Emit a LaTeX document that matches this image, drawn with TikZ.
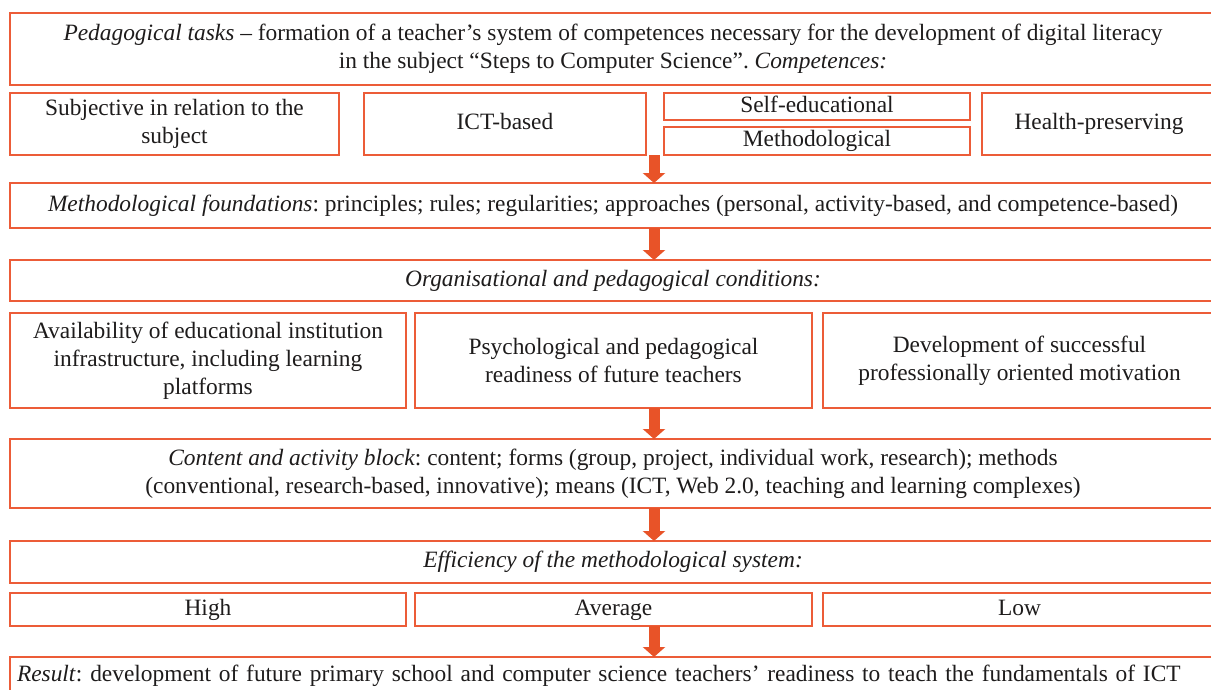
\documentclass[tikz,border=0pt]{standalone}
\usepackage{fontspec}
\setmainfont{Liberation Serif}
\usetikzlibrary{arrows.meta}
\definecolor{boxline}{RGB}{236,92,56}
\definecolor{flowfill}{RGB}{232,83,40}
\definecolor{ink}{RGB}{30,28,28}
\frenchspacing
\begin{document}
\begin{tikzpicture}[x=1pt,y=-1pt,
  box/.style={draw=boxline, line width=1.2pt, inner sep=0pt, outer sep=0pt,
    anchor=north west, align=center, text=ink,
    font={\fontsize{23.4}{28}\selectfont}},
  oneline/.style={text height=16pt, text depth=5pt},
  flow/.style={draw=flowfill, line width=11pt,
    -{Triangle[width=22pt,length=10pt]}, flowfill}]
\useasboundingbox (0,0) rectangle (1211,689);
\clip (0,0) rectangle (1211,689);
\fill[white] (0,0) rectangle (1211,689);

% column of the flow arrows
\coordinate (ax) at (654,0);

% pedagogical tasks and competences
\node[box, minimum width=1206pt, minimum height=72pt] (tasks) at (10,13)
  {\textit{Pedagogical tasks} -- formation of a teacher’s system of competences necessary for the development of digital literacy\\
   in the subject “Steps to Computer Science”. \textit{Competences:}};
\node[box, minimum width=329pt, minimum height=62pt] (subj) at (10,93)
  {Subjective in relation to the\\subject};
\node[box, oneline, minimum width=282pt, minimum height=62pt] (ict) at (364,93) {ICT-based};
\node[box, oneline, minimum width=306pt, minimum height=27pt] (selfed) at (664,93) {Self-educational};
\node[box, oneline, minimum width=306pt, minimum height=28pt] (methcomp) at (664,127) {Methodological};
\node[box, oneline, minimum width=234pt, minimum height=62pt] (health) at (982,93) {Health-preserving};

% methodological foundations
\node[box, oneline, minimum width=1206pt, minimum height=45pt] (found) at (10,183)
  {\textit{Methodological foundations}: principles; rules; regularities; approaches (personal, activity-based, and competence-based)};

% organisational and pedagogical conditions
\node[box, oneline, minimum width=1206pt, minimum height=41pt] (org) at (10,260)
  {\textit{Organisational and pedagogical conditions:}};
\node[box, minimum width=396pt, minimum height=95pt] (infra) at (10,313)
  {Availability of educational institution\\infrastructure, including learning\\platforms};
\node[box, minimum width=397pt, minimum height=95pt] (ready) at (415,313)
  {Psychological and pedagogical\\readiness of future teachers};
\node[box, minimum width=393pt, minimum height=95pt] (motiv) at (823,313)
  {Development of successful\\professionally oriented motivation};

% content and activity block
\node[box, minimum width=1206pt, minimum height=69pt] (content) at (10,439)
  {\textit{Content and activity block}: content; forms (group, project, individual work, research); methods\\
   (conventional, research-based, innovative); means (ICT, Web 2.0, teaching and learning complexes)};

% efficiency levels
\node[box, oneline, minimum width=1206pt, minimum height=42pt] (eff) at (10,541)
  {\textit{Efficiency of the methodological system:}};
\node[box, oneline, minimum width=396pt, minimum height=33pt] (high) at (10,593) {High};
\node[box, oneline, minimum width=397pt, minimum height=33pt] (avg) at (415,593) {Average};
\node[box, oneline, minimum width=393pt, minimum height=33pt] (low) at (823,593) {Low};

% result
\node[box, oneline, inner xsep=7pt, text width=1192pt, align=left, minimum height=38pt] (result) at (10,657)
  {\textit{Result}: development of future primary school and computer science teachers’ readiness to teach the fundamentals of ICT};

% flow arrows
\draw[flow] (methcomp.south -| ax) -- (found.north -| ax);
\draw[flow] (found.south -| ax) -- (org.north -| ax);
\draw[flow] (ready.south -| ax) -- (content.north -| ax);
\draw[flow] (content.south -| ax) -- (eff.north -| ax);
\draw[flow] (avg.south -| ax) -- (result.north -| ax);
\end{tikzpicture}
\end{document}
